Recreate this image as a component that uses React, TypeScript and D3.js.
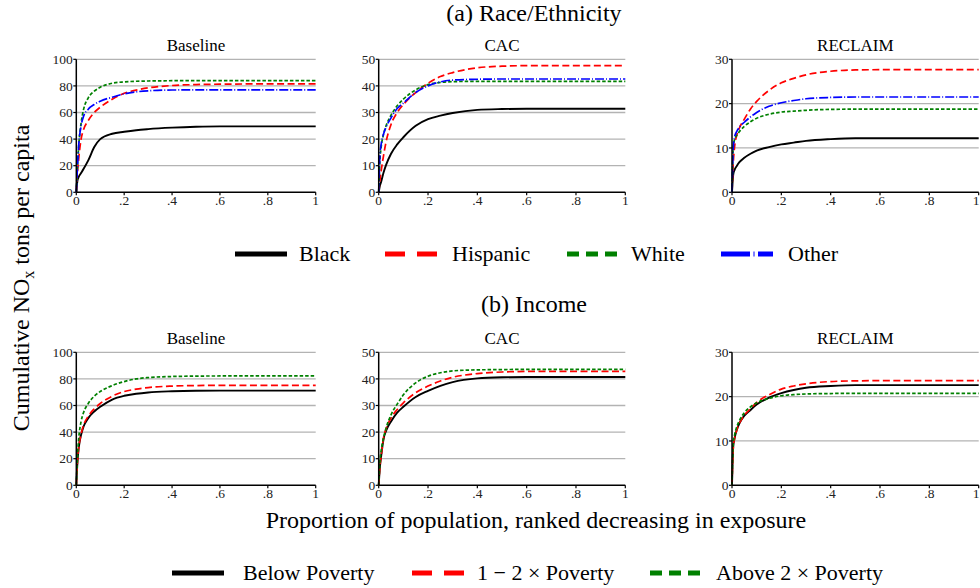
import React from "react";
import * as d3 from "d3";

// proportion of population (shared sample grid for every curve)
const X = [0, 0.005, 0.01, 0.02, 0.03, 0.05, 0.075, 0.1, 0.15, 0.2, 0.25, 0.3, 0.4, 0.5, 0.6, 0.8, 1];

// (a) Race/Ethnicity
const raceBaseBlack = [0, 9, 11.5, 14.5, 17.5, 24, 34, 40, 44, 45.5, 46.7, 47.5, 48.6, 49.3, 49.6, 49.6, 49.6];
const raceBaseHispanic = [0, 15, 25, 40, 47, 54, 60, 64, 70, 74.5, 76.8, 78.5, 80.3, 81, 81.3, 81.5, 81.5];
const raceBaseWhite = [0, 20, 35, 52, 62, 71, 76, 79, 82, 83, 83.5, 83.7, 83.9, 84, 84, 84, 84];
const raceBaseOther = [0, 20, 35, 50, 57, 62.5, 66, 68.5, 71.5, 74, 75.5, 76.3, 76.9, 77, 77, 77, 77];

const raceCacBlack = [0, 2.5, 4, 7.5, 10.3, 14.5, 18, 20.7, 25, 27.5, 28.8, 29.8, 31, 31.3, 31.4, 31.4, 31.4];
const raceCacHispanic = [0, 4.5, 8, 14, 19, 25.5, 30, 33, 37.5, 41, 43.5, 45, 46.8, 47.4, 47.6, 47.6, 47.6];
const raceCacWhite = [0, 12, 17, 22, 25, 29, 32.5, 35, 38.5, 40.5, 41.3, 41.6, 41.7, 41.7, 41.7, 41.7, 41.7];
const raceCacOther = [0, 14, 18, 22, 24.5, 28, 31.5, 33.5, 37.5, 40, 41.5, 42.2, 42.5, 42.6, 42.6, 42.6, 42.6];

const raceRecBlack = [0, 4, 5, 6, 6.8, 7.8, 8.7, 9.4, 10.2, 10.8, 11.2, 11.6, 12, 12.2, 12.2, 12.2, 12.2];
const raceRecHispanic = [0, 6.5, 10, 13, 14.5, 16.5, 18.8, 20.5, 23, 24.7, 25.7, 26.5, 27.3, 27.6, 27.65, 27.65, 27.65];
const raceRecWhite = [0, 10, 11.8, 12.9, 13.7, 14.9, 15.9, 16.7, 17.6, 18.1, 18.3, 18.5, 18.7, 18.75, 18.75, 18.75, 18.75];
const raceRecOther = [0, 10, 12.3, 13.8, 14.7, 15.8, 17, 18, 19.4, 20.2, 20.7, 21.1, 21.4, 21.5, 21.5, 21.5, 21.5];

// (b) Income
const incBaseBelow = [0, 18, 28, 38, 44, 50.5, 55.5, 59, 64.5, 67.3, 68.8, 69.8, 70.7, 71.1, 71.2, 71.2, 71.2];
const incBaseMid = [0, 18, 28, 38.5, 45, 52, 57.5, 61.5, 67, 70.5, 72.3, 73.5, 74.6, 75, 75.2, 75.2, 75.2];
const incBaseAbove = [0, 22, 35, 48, 54.5, 61.5, 67, 70.5, 75, 78, 80, 81, 81.8, 82.1, 82.2, 82.2, 82.2];

const incCacBelow = [0, 7, 11, 17.5, 20.5, 24, 27.3, 29.5, 33.2, 35.5, 37.4, 38.8, 40.2, 40.6, 40.7, 40.7, 40.7];
const incCacMid = [0, 7, 11, 18, 21.3, 25.3, 28.5, 31, 34.8, 37.3, 39.2, 40.6, 42, 42.6, 42.8, 42.85, 42.85];
const incCacAbove = [0, 9, 13, 18, 21.5, 26.5, 30.5, 34, 38.5, 41, 42.3, 43, 43.4, 43.5, 43.6, 43.6, 43.6];

const incRecBelow = [0, 8.7, 10.5, 12.6, 14, 15.7, 17, 18.2, 19.8, 20.8, 21.5, 22, 22.4, 22.6, 22.6, 22.6, 22.6];
const incRecMid = [0, 8.5, 10.4, 12.6, 14, 15.8, 17.3, 18.7, 20.4, 21.7, 22.4, 22.9, 23.4, 23.55, 23.6, 23.6, 23.6];
const incRecAbove = [0, 9.5, 11.2, 13.3, 14.6, 16.4, 17.7, 18.6, 19.6, 20.2, 20.45, 20.6, 20.7, 20.75, 20.75, 20.75, 20.75];

const panelTitles = ["Baseline", "CAC", "RECLAIM"];
const yMaxes = [100, 50, 30];
const yTickSets = [
  [0, 20, 40, 60, 80, 100],
  [0, 10, 20, 30, 40, 50],
  [0, 10, 20, 30],
];
const xTicks = [0, 0.2, 0.4, 0.6, 0.8, 1];
const raceLabels = ["Black", "Hispanic", "White", "Other"];
const incomeLabels = ["Below Poverty", "1 \u2212 2 \u00d7 Poverty", "Above 2 \u00d7 Poverty"];

const raceSeries = [
  [raceBaseBlack, raceBaseHispanic, raceBaseWhite, raceBaseOther],
  [raceCacBlack, raceCacHispanic, raceCacWhite, raceCacOther],
  [raceRecBlack, raceRecHispanic, raceRecWhite, raceRecOther],
];
const incomeSeries = [
  [incBaseBelow, incBaseMid, incBaseAbove],
  [incCacBelow, incCacMid, incCacAbove],
  [incRecBelow, incRecMid, incRecAbove],
];

// styles
const colors = ["#000000", "#ff0000", "#008000", "#0000ff"];
const dashes = ["none", "7,3.5", "3.5,2", "9,2,1,2"];
const keyDashes = ["none", "20,12", "12,7", "29,3.5,1,3.5,15"];
const font = "'Liberation Serif', 'Times New Roman', serif";

// layout
const panelX: [number, number][] = [
  [76.3, 315.7],
  [378.7, 625.3],
  [732, 978.7],
];
const rowY: [number, number][] = [
  [192.3, 59.3],
  [485.3, 352.3],
];

const fmtX = (d: number) => (d === 0 ? "0" : d === 1 ? "1" : d3.format(".1f")(d).replace(/^0/, ""));

const Panel = ({ col, row, series }: { col: number; row: number; series: number[][] }) => {
  const x = d3.scaleLinear().domain([0, 1]).range(panelX[col]);
  const y = d3.scaleLinear().domain([0, yMaxes[col]]).range(rowY[row]);
  const line = d3
    .line<number>()
    .x((d, i) => x(X[i]))
    .y((d) => y(d))
    .curve(d3.curveMonotoneX);
  const [x0, x1] = panelX[col];
  const [yb, yt] = rowY[row];
  return (
    <g>
      <text x={(x0 + x1) / 2} y={yt - 8.6} textAnchor="middle" fontSize={17} fontFamily={font}>
        {panelTitles[col]}
      </text>
      {yTickSets[col].map((t) => (
        <g key={t}>
          {t > 0 && <line x1={x0} x2={x1} y1={y(t)} y2={y(t)} stroke="#b3b3b3" strokeWidth={1.3} />}
          <line x1={x0 - 3} x2={x0} y1={y(t)} y2={y(t)} stroke="#000" strokeWidth={1.2} />
          <text x={x0 - 3.5} y={y(t)} dy="0.35em" textAnchor="end" fontSize={13.5} fontFamily={font} fill="#222">
            {t}
          </text>
        </g>
      ))}
      {xTicks.map((t) => {
        // keep the last label of the right-most panel inside the page
        const atEdge = x(t) + 4 > 980;
        return (
          <g key={t}>
            <line x1={x(t)} x2={x(t)} y1={yb} y2={yb + 3} stroke="#000" strokeWidth={1.2} />
            <text
              x={atEdge ? 979.5 : x(t)}
              y={yb + 12.5}
              textAnchor={atEdge ? "end" : "middle"}
              fontSize={13.5}
              fontFamily={font}
              fill="#222"
            >
              {fmtX(t)}
            </text>
          </g>
        );
      })}
      {series.map((s, i) => (
        <path
          key={i}
          d={line(s) || ""}
          fill="none"
          stroke={colors[i]}
          strokeWidth={i === 0 ? 1.9 : 1.7}
          strokeDasharray={dashes[i]}
        />
      ))}
      <line x1={x0} x2={x0} y1={yb} y2={yt} stroke="#000" strokeWidth={1.5} />
      <line x1={x0} x2={x1} y1={yb} y2={yb} stroke="#000" strokeWidth={1.5} />
    </g>
  );
};

const raceKeyX = [235, 385, 567, 721];
const raceTextX = [299, 452, 631, 788];
const incomeKeyX = [172, 412, 650];
const incomeTextX = [243, 477, 716];

const Legend = ({ labels, keyX, textX, cy }: { labels: string[]; keyX: number[]; textX: number[]; cy: number }) => (
  <g>
    {labels.map((l, i) => (
      <g key={l}>
        <line
          x1={keyX[i]}
          x2={keyX[i] + 52}
          y1={cy}
          y2={cy}
          stroke={colors[i]}
          strokeWidth={5}
          strokeDasharray={keyDashes[i]}
        />
        <text x={textX[i]} y={cy} dy="0.34em" fontSize={22} fontFamily={font}>
          {l}
        </text>
      </g>
    ))}
  </g>
);

export default function App() {
  return (
    <svg
      width={980}
      height={588}
      style={{ position: "absolute", left: 0, top: 0, background: "#fff" }}
    >
      <text x={534} y={21} textAnchor="middle" fontSize={24} fontFamily={font}>
        (a) Race/Ethnicity
      </text>
      <text x={534} y={312} textAnchor="middle" fontSize={24} fontFamily={font}>
        (b) Income
      </text>
      {raceSeries.map((s, c) => (
        <Panel key={"a" + c} col={c} row={0} series={s} />
      ))}
      {incomeSeries.map((s, c) => (
        <Panel key={"b" + c} col={c} row={1} series={s} />
      ))}
      <Legend labels={raceLabels} keyX={raceKeyX} textX={raceTextX} cy={254} />
      <Legend labels={incomeLabels} keyX={incomeKeyX} textX={incomeTextX} cy={573} />
      <text x={536} y={528} textAnchor="middle" fontSize={24} fontFamily={font}>
        Proportion of population, ranked decreasing in exposure
      </text>
      <text transform="translate(29,278) rotate(-90)" textAnchor="middle" fontSize={24} fontFamily={font}>
        Cumulative NO
        <tspan dy={5} fontSize={16}>x</tspan>
        <tspan dy={-5}> tons per capita</tspan>
      </text>
    </svg>
  );
}
